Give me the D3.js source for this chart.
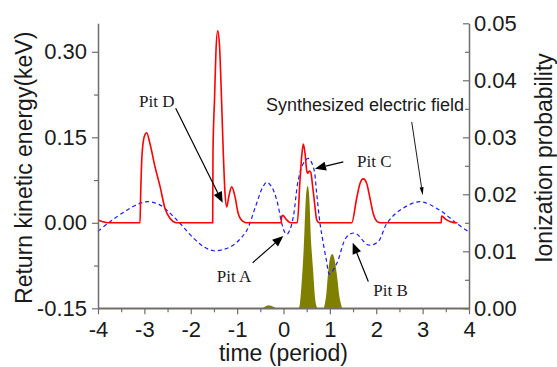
<!DOCTYPE html>
<html>
<head>
<meta charset="utf-8">
<script src="https://cdn.jsdelivr.net/npm/d3@7"></script>
<style>
  body { margin: 0; background: #fff; }
  svg { display: block; background: #fff; }
</style>
</head>
<body>
<svg id="chart" width="557" height="367"></svg>
<script>
// tick values
const timeTicks = [-4, -3, -2, -1, 0, 1, 2, 3, 4];
const timeMinor = [-3.5, -2.5, -1.5, -0.5, 0.5, 1.5, 2.5, 3.5];
const energyTicks = [-0.15, 0, 0.15, 0.3];
const energyMinor = [-0.075, 0.075, 0.225];
const probTicks = [0, 0.01, 0.02, 0.03, 0.04, 0.05];
const probMinor = [0.005, 0.015, 0.025, 0.035, 0.045];

// return kinetic energy (keV) : [time, value]
const returnEnergy = [
  [-4.0, 0.005], [-3.9, 0.002], [-3.78, 0], [-3.094, 0], [-3.08, 0.05], [-3.05, 0.12],
  [-3.0, 0.152], [-2.95, 0.158], [-2.88, 0.139], [-2.77, 0.098], [-2.66, 0.063],
  [-2.555, 0.025], [-2.447, 0.008], [-2.3, 0],
  [-1.527, 0], [-1.52, 0.127], [-1.488, 0.215], [-1.456, 0.302], [-1.419, 0.337],
  [-1.38, 0.311], [-1.333, 0.209], [-1.298, 0.122], [-1.261, 0.052], [-1.225, 0.028],
  [-1.175, 0.048], [-1.117, 0.063], [-1.046, 0.046], [-0.975, 0.016], [-0.867, 0.002], [-0.793, 0],
  [-0.054, 0], [-0.04, 0.01], [-0.017, 0.013], [0.069, 0.005], [0.155, 0],
  [0.298, 0], [0.356, 0.075], [0.392, 0.116], [0.427, 0.138], [0.464, 0.122], [0.5, 0.092],
  [0.522, 0.087], [0.556, 0.091], [0.587, 0.089], [0.63, 0.063], [0.679, 0.028], [0.716, 0.005], [0.772, 0],
  [1.471, 0], [1.578, 0.043], [1.65, 0.069], [1.721, 0.077], [1.794, 0.069], [1.865, 0.043],
  [1.936, 0.016], [2.044, 0.001], [2.117, 0],
  [3.4, 0], [3.41, 0.012], [3.5, 0.006], [3.6, 0.002], [3.73, 0], [3.75, 0]
];

// synthesized electric field (drawn on the energy scale) : [time, value]
const electricField = [
  [-4, -0.015], [-3.74, 0.002], [-3.38, 0.022], [-3.1, 0.034], [-2.92, 0.037], [-2.66, 0.031],
  [-2.3, 0.005], [-1.94, -0.027], [-1.7, -0.043], [-1.51, -0.049], [-1.3, -0.047], [-1.08, -0.039],
  [-0.92, -0.027], [-0.79, -0.013], [-0.58, 0.034], [-0.45, 0.062], [-0.36, 0.071], [-0.254, 0.063],
  [-0.146, 0.04], [-0.04, 0.0], [0.03, -0.017], [0.08, -0.02], [0.14, -0.012], [0.212, 0.0105],
  [0.319, 0.075], [0.427, 0.104], [0.535, 0.113], [0.643, 0.098], [0.716, 0.051], [0.787, -0.001],
  [0.845, -0.03], [0.93, -0.068], [0.99, -0.09], [1.15, -0.071], [1.36, -0.025], [1.54, -0.018],
  [1.83, -0.039], [2.04, -0.033], [2.23, -0.001], [2.51, 0.022], [2.94, 0.037], [3.37, 0.022],
  [3.73, -0.001], [4.0, -0.016]
];

// ionization probability : [time, value]
const ionization = [
  [-4, 0], [-0.5, 0], [-0.42, 0.00005], [-0.36, 0.0003], [-0.32, 0.0004], [-0.27, 0.0003],
  [-0.2, 0.00005], [-0.15, 0], [0.33, 0], [0.36, 0.0003], [0.4, 0.0035], [0.427, 0.0067],
  [0.45, 0.01], [0.464, 0.0126], [0.49, 0.018], [0.52, 0.0213], [0.545, 0.0185], [0.571, 0.0126],
  [0.595, 0.0095], [0.621, 0.0067], [0.66, 0.002], [0.7, 0.0002], [0.72, 0],
  [0.88, 0], [0.91, 0.0008], [0.94, 0.0025], [0.966, 0.005], [1.0, 0.0078], [1.052, 0.0094],
  [1.1, 0.0078], [1.147, 0.005], [1.18, 0.0025], [1.22, 0.0008], [1.26, 0], [4, 0]
];

const svg = d3.select("#chart");
const margin = { top: 23.3, right: 88, bottom: 58.7, left: 98 };
const width = 557 - margin.left - margin.right;
const height = 367 - margin.top - margin.bottom;

const sans = "'Liberation Sans', Arial, Helvetica, sans-serif";
const serif = "'Liberation Serif', 'Times New Roman', serif";
const axisColor = "#6e6e6e";

const g = svg.append("g").attr("transform", `translate(${margin.left},${margin.top})`);

const x = d3.scaleLinear().domain([-4, 4]).range([0, width]);
const yE = d3.scaleLinear().domain([-0.15, 0.35]).range([height, 0]);
const yP = d3.scaleLinear().domain([0, 0.05]).range([height, 0]);

// ionization probability area
g.append("path")
  .datum(ionization)
  .attr("fill", "#808000")
  .attr("stroke", "#808000")
  .attr("stroke-width", 1.6)
  .attr("d", d3.area()
    .x((d) => x(d[0]))
    .y0(yP(0))
    .y1((d) => yP(d[1]))
    .curve(d3.curveMonotoneX));

// electric field, dashed
g.append("path")
  .datum(electricField)
  .attr("fill", "none")
  .attr("stroke", "#1a1aff")
  .attr("stroke-width", 1.2)
  .attr("stroke-dasharray", "4,3")
  .attr("d", d3.line()
    .x((d) => x(d[0]))
    .y((d) => yE(d[1]))
    .curve(d3.curveCatmullRom.alpha(0.5)));

// return energy
g.append("path")
  .datum(returnEnergy)
  .attr("fill", "none")
  .attr("stroke", "#ff0000")
  .attr("stroke-width", 1.6)
  .attr("d", d3.line()
    .x((d) => x(d[0]))
    .y((d) => yE(d[1]))
    .curve(d3.curveMonotoneX));

function styleAxis(sel) {
  sel.attr("font-size", 22).attr("font-family", sans);
  sel.select(".domain").attr("stroke", axisColor).attr("stroke-width", 1.5);
  sel.selectAll(".tick line").attr("stroke", axisColor).attr("stroke-width", 1.2);
  sel.selectAll(".tick text").attr("fill", "#1a1a1a");
}

// minor ticks: no labels, so drop their text nodes
function minorOnly(sel) {
  sel.selectAll(".tick text").remove();
  sel.select(".domain").remove();
  sel.selectAll(".tick line").attr("stroke", axisColor).attr("stroke-width", 1.2);
}

g.append("g")
  .attr("transform", `translate(0,${height})`)
  .call(d3.axisBottom(x).tickValues(timeMinor).tickSize(4))
  .call(minorOnly);
g.append("g")
  .call(d3.axisLeft(yE).tickValues(energyMinor).tickSize(4))
  .call(minorOnly);
g.append("g")
  .attr("transform", `translate(${width},0)`)
  .call(d3.axisRight(yP).tickValues(probMinor).tickSize(-4))
  .call(minorOnly);

g.append("g")
  .attr("transform", `translate(0,${height})`)
  .call(d3.axisBottom(x).tickValues(timeTicks).tickFormat((d) => String(d))
    .tickSizeInner(6).tickSizeOuter(0).tickPadding(7))
  .call(styleAxis);

g.append("g")
  .call(d3.axisLeft(yE).tickValues(energyTicks).tickFormat((d) => d.toFixed(2))
    .tickSizeInner(6).tickSizeOuter(0).tickPadding(5))
  .call(styleAxis);

g.append("g")
  .attr("transform", `translate(${width},0)`)
  .call(d3.axisRight(yP).tickValues(probTicks).tickFormat((d) => d.toFixed(2))
    .tickSizeInner(-6).tickSizeOuter(0).tickPadding(5))
  .call(styleAxis);

// axis titles
svg.append("text")
  .attr("transform", `translate(31.5,${margin.top + height / 2 + 2}) rotate(-90)`)
  .attr("text-anchor", "middle")
  .attr("font-family", sans)
  .attr("font-size", 23)
  .attr("fill", "#1a1a1a")
  .text("Return kinetic energy(keV)");

svg.append("text")
  .attr("transform", `translate(551.5,158) rotate(-90)`)
  .attr("text-anchor", "middle")
  .attr("font-family", sans)
  .attr("font-size", 23)
  .attr("fill", "#1a1a1a")
  .text("Ionization probability");

svg.append("text")
  .attr("x", margin.left + width / 2)
  .attr("y", 361)
  .attr("text-anchor", "middle")
  .attr("font-family", sans)
  .attr("font-size", 23)
  .attr("fill", "#1a1a1a")
  .text("time (period)");

// annotations, anchored in data units
function arrow(from, to, len, half, lw) {
  const x1 = x(from[0]), y1 = yE(from[1]);
  const x2 = x(to[0]), y2 = yE(to[1]);
  const a = Math.atan2(y2 - y1, x2 - x1);
  const bx = x2 - len * Math.cos(a), by = y2 - len * Math.sin(a);
  g.append("line")
    .attr("x1", x1).attr("y1", y1).attr("x2", bx).attr("y2", by)
    .attr("stroke", "#000").attr("stroke-width", lw);
  g.append("path")
    .attr("d", `M${x2},${y2}L${bx + half * Math.sin(a)},${by - half * Math.cos(a)}` +
      `L${bx - half * Math.sin(a)},${by + half * Math.cos(a)}Z`)
    .attr("fill", "#000");
}

function label(txt, at, font, size) {
  g.append("text")
    .attr("x", x(at[0]))
    .attr("y", yE(at[1]))
    .attr("font-family", font)
    .attr("font-size", size)
    .attr("fill", "#1a1a1a")
    .text(txt);
}

label("Pit D", [-3.116, 0.204], serif, 17);
arrow([-2.325, 0.201], [-1.311, 0.035], 11, 4.5, 1.2);

label("Pit C", [1.585, 0.0975], serif, 17);
arrow([1.29, 0.107], [0.679, 0.095], 11, 4.5, 1.2);

label("Pit A", [-1.44, -0.103], serif, 17);
arrow([-0.664, -0.07], [-0.004, -0.023], 11, 4.5, 1.2);

label("Pit B", [1.937, -0.128], serif, 17);
arrow([1.829, -0.103], [1.492, -0.035], 11, 4.5, 1.2);

label("Synthesized electric field", [-0.377, 0.197], sans, 18);
arrow([2.765, 0.177], [3.002, 0.0485], 8, 2, 0.9);
</script>
</body>
</html>
